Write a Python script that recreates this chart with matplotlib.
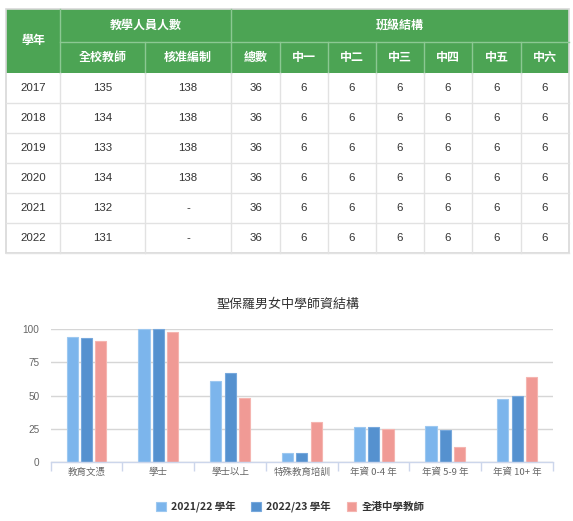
import matplotlib
matplotlib.use("Agg")
import matplotlib.pyplot as plt
from matplotlib.patches import Rectangle
import numpy as np

# ---------------- data ----------------
years = ["2017", "2018", "2019", "2020", "2021", "2022"]
all_teachers = ["135", "134", "133", "134", "132", "131"]
approved = ["138", "138", "138", "138", "-", "-"]
total_classes = ["36", "36", "36", "36", "36", "36"]
f1 = ["6", "6", "6", "6", "6", "6"]
f2 = ["6", "6", "6", "6", "6", "6"]
f3 = ["6", "6", "6", "6", "6", "6"]
f4 = ["6", "6", "6", "6", "6", "6"]
f5 = ["6", "6", "6", "6", "6", "6"]
f6 = ["6", "6", "6", "6", "6", "6"]
header_groups = ["學年", "教學人員人數", "班級結構"]
sub_headers = ["全校教師", "核准編制", "總數", "中一", "中二", "中三", "中四", "中五", "中六"]

chart_title = "聖保羅男女中學師資結構"
categories = ["教育文憑", "學士", "學士以上", "特殊教育培訓", "年資 0-4 年", "年資 5-9 年", "年資 10+ 年"]
series_names = ["2021/22 學年", "2022/23 學年", "全港中學教師"]
s_2021 = [94, 100, 61, 7, 26, 27, 47]
s_2022 = [93, 100, 67, 7, 26, 24, 50]
s_hk = [91, 98, 48, 30, 25, 11, 64]
y_ticks = [0, 25, 50, 75, 100]

# ---------------- figure ----------------
W, H = 573, 521
fig = plt.figure(figsize=(W / 100, H / 100), dpi=100)
fig.patch.set_facecolor("white")

CJK = ["Noto Sans CJK TC", "DejaVu Sans"]
NUM = ["Liberation Sans", "Noto Sans CJK TC", "DejaVu Sans"]

# overlay axes in pixel coordinates for the table
tax = fig.add_axes([0, 0, 1, 1])
tax.set_xlim(0, W)
tax.set_ylim(H, 0)
tax.axis("off")

green = "#4ca454"
col_edges = [6, 60, 145, 231, 280, 328, 376, 424, 472, 521, 569]
top, h1, h2 = 9, 41.5, 72.5
row_h = 30.1

def px(v):
    return v * 72 / 100

# header background
tax.add_patch(Rectangle((col_edges[0], top), col_edges[-1] - col_edges[0], h2 - top,
                        facecolor=green, edgecolor="none"))
line_c = "#8cc893"
for x in col_edges[1:-1]:
    if x in (60, 231):
        tax.plot([x, x], [top, h2], color=line_c, lw=1)
    else:
        tax.plot([x, x], [h1, h2], color=line_c, lw=1)
tax.plot([60, col_edges[-1]], [h1, h1], color=line_c, lw=1)

hdr_font = dict(color="white", fontsize=px(12), fontweight="bold", family=CJK,
                ha="center", va="center")
tax.text((6 + 60) / 2, (top + h2) / 2, header_groups[0], **hdr_font)
tax.text((60 + 231) / 2, (top + h1) / 2, header_groups[1], **hdr_font)
tax.text((231 + 569) / 2, (top + h1) / 2, header_groups[2], **hdr_font)
for j, s in enumerate(sub_headers):
    x0, x1 = col_edges[j + 1], col_edges[j + 2]
    tax.text((x0 + x1) / 2, (h1 + h2) / 2, s, **hdr_font)

# data rows
columns = [years, all_teachers, approved, total_classes, f1, f2, f3, f4, f5, f6]
grid_c = "#e2e2e2"
n_rows = len(years)
bottom = h2 + n_rows * row_h
for r in range(n_rows):
    y0 = h2 + r * row_h
    yc = y0 + row_h / 2
    for c, col in enumerate(columns):
        x0, x1 = col_edges[c], col_edges[c + 1]
        tax.text((x0 + x1) / 2, yc, col[r], color="#333333", fontsize=px(11.5),
                 family=NUM, ha="center", va="center")
    tax.plot([col_edges[0], col_edges[-1]], [y0 + row_h, y0 + row_h], color=grid_c, lw=1)
for x in col_edges[1:-1]:
    tax.plot([x, x], [h2, bottom], color=grid_c, lw=1)
tax.add_patch(Rectangle((col_edges[0], top), col_edges[-1] - col_edges[0], bottom - top,
                        facecolor="none", edgecolor="#d8d8d8", lw=1.2))

# ---------------- chart ----------------
left_px, right_px, y0_px, y100_px = 50.7, 553, 462, 329
ax = fig.add_axes([left_px / W, (H - y0_px) / H, (right_px - left_px) / W, (y0_px - y100_px) / H])
ax.set_xlim(-0.5, len(categories) - 0.5)
ax.set_ylim(0, 100)

colors = ["#7cb5ec", "#5591cf", "#f09a95"]
edges = ["#9dc8f0", "#77a8dc", "#f5b5b0"]
x = np.arange(len(categories))
offs = [-0.2, 0.0, 0.2]
bw = 0.155
for vals, off, c, ec, name in zip([s_2021, s_2022, s_hk], offs, colors, edges, series_names):
    ax.bar(x + off, vals, width=bw, color=c, edgecolor=ec, linewidth=0.8,
           label=name, clip_on=False, zorder=3)

ax.set_yticks(y_ticks)
ax.set_yticklabels([str(v) for v in y_ticks], family=NUM, fontsize=px(10), color="#666666")
ax.yaxis.grid(True, color="#d6d6d6", lw=1, zorder=0)
ax.tick_params(axis="y", length=0, pad=8)

ax.set_xticks(x)
ax.set_xticklabels(categories, family=CJK, fontsize=px(9.5), color="#666666")
ax.tick_params(axis="x", length=0, pad=4)
ax.set_xticks(np.arange(len(categories) + 1) - 0.5, minor=True)
ax.tick_params(axis="x", which="minor", length=6.5, color="#ccd6eb", width=1)

for s in ["top", "right", "left"]:
    ax.spines[s].set_visible(False)
ax.spines["bottom"].set_color("#ccd6eb")
ax.spines["bottom"].set_linewidth(1)
ax.spines["bottom"].set_zorder(4)
ax.set_axisbelow(True)

fig.text(288 / W, 1 - 304 / H, chart_title, family=CJK, fontsize=px(13), color="#333333",
         ha="center", va="center")

leg = ax.legend(loc="center", bbox_to_anchor=(0.477, -0.335), ncol=3, frameon=False,
                prop={"family": CJK, "size": px(10.5), "weight": "bold"},
                handlelength=0.9, handleheight=0.9, columnspacing=1.5, handletextpad=0.5)
for t in leg.get_texts():
    t.set_color("#333333")

fig.savefig("out.png", dpi=100, facecolor="white")
